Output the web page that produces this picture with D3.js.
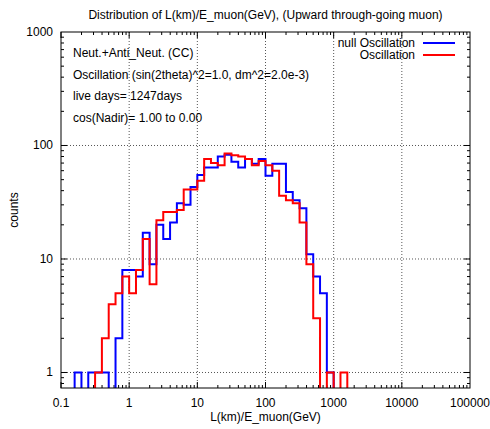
<!DOCTYPE html>
<html>
<head>
<meta charset="utf-8">
<script src="https://cdn.jsdelivr.net/npm/d3@7"></script>
<style>
  body { margin: 0; background: #fff; }
  text { font-family: "Liberation Sans", Arial, sans-serif; font-size: 12px; fill: #000; }
  .grid { stroke: #555; stroke-width: 1; stroke-dasharray: 1,2; }
</style>
</head>
<body>
<div id="chart"></div>
<script>
	// log10 bin edges of L/E
	var binEdgesLog = [-0.8,-0.7,-0.6,-0.5,-0.4,-0.3,-0.2,-0.1,0.0,0.1,
		0.2,0.3,0.4,0.5,0.6,0.7,0.8,0.9,1.0,1.1,
		1.2,1.3,1.4,1.5,1.6,1.7,1.8,1.9,2.0,2.1,
		2.2,2.3,2.4,2.5,2.6,2.7,2.8,2.9,3.0,3.1,3.2];

	var nullOsc = [1,0,1,1,1,0,2,8,8,7,
		17,9,20,15,21,31,30,43,55,64,
		64,80,83,72,64,76,69,76,54,69,
		69,39,33,28,11,7,5,1,0,0];

	var withOsc = [0,0,0,1,2,4,5,7,5,8,
		15,6,22,26,26,27,41,41,49,76,
		70,67,85,82,80,76,67,73,67,60,
		36,33,31,21,9,3,0,1,0,1];

	var xTicks = [0.1,1,10,100,1000,10000,100000];
	var xTickLabels = ["0.1","1","10","100","1000","10000","100000"];
	var yTicks = [1,10,100,1000];

	var infoLines = ["Neut.+Anti_Neut. (CC)",
		"Oscillation (sin(2theta)^2=1.0, dm^2=2.0e-3)",
		"live days= 1247days",
		"cos(Nadir)= 1.00 to 0.00"];

	var width = 490, height = 429;
	var pLeft = 61, pRight = 470, pTop = 32, pBottom = 388;

	var svg = d3.select("#chart").append("svg")
		.attr("width", width)
		.attr("height", height);

	var x = d3.scaleLog().domain([0.1, 100000]).range([pLeft, pRight]);
	var y = d3.scaleLog().domain([0.73, 1000]).range([pBottom, pTop]);

	svg.append("defs").append("clipPath").attr("id", "plotClip")
		.append("rect")
		.attr("x", pLeft).attr("y", pTop)
		.attr("width", pRight - pLeft).attr("height", pBottom - pTop);

	// grid
	xTicks.slice(1, -1).forEach(function(t) {
		svg.append("line").attr("class", "grid")
			.attr("x1", x(t)).attr("x2", x(t))
			.attr("y1", pTop).attr("y2", pBottom);
	});
	yTicks.slice(0, -1).forEach(function(t) {
		svg.append("line").attr("class", "grid")
			.attr("x1", pLeft).attr("x2", pRight)
			.attr("y1", y(t)).attr("y2", y(t));
	});

	// minor + major ticks, mirrored on all four sides
	var ticks = svg.append("g").attr("stroke", "#000").attr("stroke-width", 1);
	for (var d = -1; d < 5; d++) {
		for (var m = 1; m < 10; m++) {
			var v = m * Math.pow(10, d);
			var len = m == 1 ? 6 : 3;
			var px = x(v);
			ticks.append("line").attr("x1", px).attr("x2", px).attr("y1", pBottom).attr("y2", pBottom - len);
			ticks.append("line").attr("x1", px).attr("x2", px).attr("y1", pTop).attr("y2", pTop + len);
		}
	}
	for (var d = -1; d < 3; d++) {
		for (var m = 1; m < 10; m++) {
			var v = m * Math.pow(10, d);
			if (v < 0.73) continue;
			var len = m == 1 ? 6 : 3;
			var py = y(v);
			ticks.append("line").attr("x1", pLeft).attr("x2", pLeft + len).attr("y1", py).attr("y2", py);
			ticks.append("line").attr("x1", pRight).attr("x2", pRight - len).attr("y1", py).attr("y2", py);
		}
	}

	// tick labels
	xTicks.forEach(function(t, i) {
		svg.append("text")
			.attr("x", x(t)).attr("y", pBottom + 19)
			.attr("text-anchor", "middle")
			.text(xTickLabels[i]);
	});
	yTicks.forEach(function(t) {
		svg.append("text")
			.attr("x", pLeft - 8).attr("y", y(t) + 4)
			.attr("text-anchor", "end")
			.text(t);
	});

	// histogram step lines
	function stepPoints(vals) {
		var low = 0.3;
		var pts = [[binEdgesLog[0], low]];
		vals.forEach(function(v, i) {
			var vv = v > 0 ? v : low;
			pts.push([binEdgesLog[i], vv]);
			pts.push([binEdgesLog[i + 1], vv]);
		});
		pts.push([binEdgesLog[vals.length], low]);
		return pts;
	}

	var line = d3.line()
		.x(function(p) { return x(Math.pow(10, p[0])); })
		.y(function(p) { return y(p[1]); });

	var plot = svg.append("g").attr("clip-path", "url(#plotClip)");

	plot.append("path")
		.attr("d", line(stepPoints(nullOsc)))
		.attr("fill", "none")
		.attr("stroke", "#0000ff")
		.attr("stroke-width", 2);

	plot.append("path")
		.attr("d", line(stepPoints(withOsc)))
		.attr("fill", "none")
		.attr("stroke", "#ff0000")
		.attr("stroke-width", 2);

	// border
	svg.append("rect")
		.attr("x", pLeft).attr("y", pTop)
		.attr("width", pRight - pLeft).attr("height", pBottom - pTop)
		.attr("fill", "none")
		.attr("stroke", "#000")
		.attr("stroke-width", 1);

	// info text
	infoLines.forEach(function(s, i) {
		svg.append("text")
			.attr("x", 73).attr("y", 57 + i * 21.5)
			.text(s);
	});

	// legend
	var legend = [["null Oscillation", "#0000ff"], ["Oscillation", "#ff0000"]];
	legend.forEach(function(l, i) {
		var ly = 43 + i * 12;
		svg.append("text")
			.attr("x", 415).attr("y", ly + 4)
			.attr("text-anchor", "end")
			.text(l[0]);
		svg.append("line")
			.attr("x1", 423).attr("x2", 455)
			.attr("y1", ly).attr("y2", ly)
			.attr("stroke", l[1])
			.attr("stroke-width", 2);
	});

	// titles
	svg.append("text")
		.attr("x", (pLeft + pRight) / 2).attr("y", 19)
		.attr("text-anchor", "middle")
		.text("Distribution of L(km)/E_muon(GeV), (Upward through-going muon)");

	svg.append("text")
		.attr("x", (pLeft + pRight) / 2).attr("y", 421)
		.attr("text-anchor", "middle")
		.text("L(km)/E_muon(GeV)");

	svg.append("text")
		.attr("transform", "translate(18," + ((pTop + pBottom) / 2) + ") rotate(-90)")
		.attr("text-anchor", "middle")
		.text("counts");
</script>
</body>
</html>
